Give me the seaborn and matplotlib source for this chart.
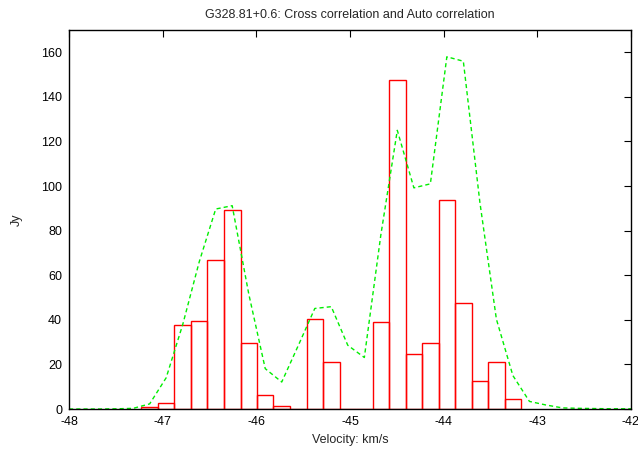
import numpy as np
import pandas as pd
import matplotlib
matplotlib.use("Agg")
import matplotlib.pyplot as plt
import seaborn as sns

# cross correlation channels (red boxes)
cross_vel = [-47.139, -46.963, -46.786, -46.610, -46.434, -46.258, -46.081,
             -45.905, -45.729, -45.552, -45.376, -45.200, -45.024, -44.847,
             -44.671, -44.495, -44.318, -44.142, -43.966, -43.790, -43.613,
             -43.437, -43.261]
cross_jy = [1.0, 2.6, 37.7, 39.5, 66.7, 89.2, 29.6, 6.4, 1.5, 0.0, 40.3, 20.9,
            0.0, 0.0, 38.9, 147.5, 24.6, 29.6, 93.7, 47.6, 12.6, 21.3, 4.5]

# auto correlation spectrum (green dashed)
auto_vel = [-48.0, -47.844, -47.668, -47.492, -47.315, -47.139, -46.963,
            -46.786, -46.610, -46.434, -46.258, -46.081, -45.905, -45.729,
            -45.552, -45.376, -45.200, -45.024, -44.847, -44.671, -44.495,
            -44.318, -44.142, -43.966, -43.790, -43.613, -43.437, -43.261,
            -43.084, -42.908, -42.732, -42.555, -42.379, -42.203, -42.0]
auto_jy = [0.0, 0.0, 0.0, 0.1, 0.3, 2.3, 14.0, 37.9, 66.0, 89.7, 91.2, 51.6,
           18.1, 12.1, 28.5, 45.1, 45.9, 28.6, 23.1, 78.0, 125.0, 99.2, 101.0,
           158.0, 156.0, 92.6, 40.3, 15.0, 3.4, 1.8, 0.5, 0.3, 0.2, 0.1, 0.1]

chan_width = 0.1763

sns.set_style("white")
plt.rcParams["font.family"] = ["Liberation Sans", "DejaVu Sans"]
plt.rcParams["axes.unicode_minus"] = False

fig = plt.figure(figsize=(6.38, 4.5), dpi=100)
ax = fig.add_axes([0.1082, 0.0911, 0.8808, 0.8422])

edges = list(np.array(cross_vel) - chan_width / 2) + [cross_vel[-1] + chan_width / 2]
sns.histplot(x=cross_vel, weights=cross_jy, bins=edges, element="bars",
             fill=False, color="#ff0000", linewidth=1.0, ax=ax)

sns.lineplot(x=auto_vel, y=auto_jy, color="#00ee00", linewidth=1.0,
             dashes=False, ax=ax)
ax.lines[-1].set_dashes((3, 2.2))

ax.set_xlim(-48, -42)
ax.set_ylim(0, 170)
ax.set_xticks(range(-48, -41))
ax.set_yticks(range(0, 161, 20))
ax.tick_params(direction="in", top=True, right=True, length=5, pad=5,
               labelsize=9, width=0.8, colors="black")
for sp in ax.spines.values():
    sp.set_color("black")
    sp.set_linewidth(1.0)

ax.set_title("G328.81+0.6: Cross correlation and Auto correlation",
             fontsize=9, pad=9)
ax.set_xlabel("Velocity: km/s", fontsize=9, labelpad=4)
ax.set_ylabel("Jy", fontsize=9, labelpad=13)

fig.savefig("out.png", dpi=100)
